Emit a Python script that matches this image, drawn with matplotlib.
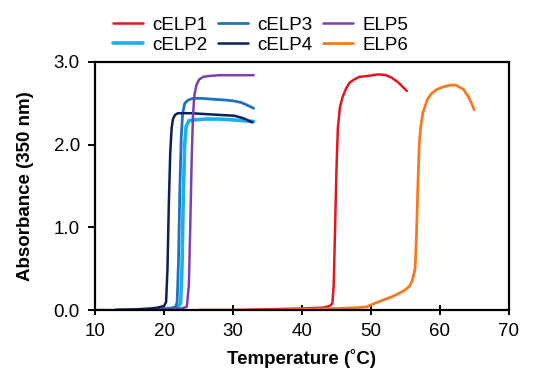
import matplotlib
matplotlib.use("Agg")
import matplotlib.pyplot as plt

plt.rcParams['font.family'] = ['Liberation Sans', 'DejaVu Sans']

# cELP1 (red)
t1 = [25, 30, 35, 40, 43, 44.0, 44.4, 44.6, 44.8, 45.0, 45.2, 45.5, 45.9, 46.4, 46.9, 47.6, 48.3, 49.5, 51.0, 52.2, 53.0, 54.0, 55.2]
a1 = [0.0, 0.0, 0.01, 0.02, 0.03, 0.05, 0.08, 0.3, 1.0, 1.7, 2.2, 2.45, 2.58, 2.68, 2.75, 2.79, 2.82, 2.83, 2.85, 2.84, 2.81, 2.75, 2.65]
# cELP2 (light blue)
t2 = [13, 16, 19, 21, 22.0, 22.4, 22.6, 22.8, 23.0, 23.2, 23.6, 24.5, 26, 28, 30, 31.5, 33]
a2 = [0.0, 0.0, 0.01, 0.02, 0.04, 0.08, 0.5, 1.4, 2.0, 2.22, 2.29, 2.30, 2.31, 2.31, 2.30, 2.29, 2.28]
# cELP3 (blue)
t3 = [13, 16, 19, 21, 21.7, 21.9, 22.1, 22.3, 22.5, 22.7, 23.0, 23.5, 24.2, 25.5, 27, 28.8, 30, 31.2, 32, 33]
a3 = [0.0, 0.0, 0.01, 0.02, 0.04, 0.1, 0.6, 1.5, 2.1, 2.38, 2.50, 2.54, 2.56, 2.56, 2.55, 2.54, 2.53, 2.51, 2.48, 2.44]
# cELP4 (navy)
t4 = [10, 13, 16, 18, 19, 20.0, 20.3, 20.5, 20.7, 20.9, 21.1, 21.3, 21.6, 22.0, 22.5, 24, 26, 28, 30.2, 31.5, 32.8]
a4 = [0.0, 0.0, 0.01, 0.02, 0.03, 0.05, 0.1, 0.5, 1.3, 1.9, 2.2, 2.31, 2.36, 2.38, 2.38, 2.38, 2.37, 2.36, 2.35, 2.32, 2.27]
# ELP5 (purple)
t5 = [13, 16, 19, 21, 22.5, 23.3, 23.6, 23.8, 24.0, 24.2, 24.4, 24.7, 25.1, 25.7, 26.5, 28, 30, 32, 33]
a5 = [0.0, 0.0, 0.0, 0.01, 0.02, 0.04, 0.3, 1.0, 1.8, 2.35, 2.6, 2.72, 2.79, 2.82, 2.83, 2.84, 2.84, 2.84, 2.84]
# ELP6 (orange)
t6 = [25, 30, 35, 40, 45, 48, 49.4, 50.2, 51.1, 52.0, 53.0, 54.0, 54.9, 55.6, 56.0, 56.4, 56.6, 56.8, 57.0, 57.2, 57.5, 58.2, 58.8, 59.6, 60.5, 61.5, 62.3, 63.4, 64.2, 65.0]
a6 = [0.0, 0.0, 0.0, 0.01, 0.02, 0.03, 0.04, 0.07, 0.10, 0.13, 0.16, 0.20, 0.24, 0.29, 0.36, 0.5, 0.9, 1.5, 2.0, 2.2, 2.38, 2.55, 2.62, 2.67, 2.70, 2.72, 2.72, 2.67, 2.57, 2.42]

series = [
    ("cELP1", t1, a1, "#e3161d", 1.8),
    ("cELP2", t2, a2, "#1ab0ea", 2.6),
    ("cELP3", t3, a3, "#1f72bf", 2.0),
    ("cELP4", t4, a4, "#0b1f5a", 1.8),
    ("ELP5", t5, a5, "#7a3fb0", 1.8),
    ("ELP6", t6, a6, "#f47a20", 2.0),
]

fig = plt.figure(figsize=(5.34, 3.71), dpi=100)
ax = fig.add_axes([0.178, 0.164, 0.775, 0.669])

for name, t, a, c, lw in series:
    ax.plot(t, a, color=c, lw=lw, label=name, solid_capstyle='round')

ax.set_xlim(10, 70)
ax.set_ylim(0, 3.0)
ax.set_xticks(range(10, 71, 10))
ax.set_yticks([0, 1, 2, 3])
ax.set_yticklabels(["0.0", "1.0", "2.0", "3.0"])
for s in ax.spines.values():
    s.set_linewidth(1.6)
ax.tick_params(axis='x', direction='inout', length=7, width=1.4, labelsize=13.5, pad=6)
ax.tick_params(axis='y', direction='out', length=5, width=1.4, labelsize=13.5, pad=6)
ax.set_xlabel("Temperature (˚C)", fontsize=13.5, fontweight='bold', labelpad=6)
ax.set_ylabel("Absorbance (350 nm)", fontsize=13.5, fontweight='bold', labelpad=14)

fig.legend(loc='upper center', bbox_to_anchor=(0.488, 0.99), ncol=3, frameon=False,
           fontsize=13.5, handlelength=1.6, handletextpad=0.5, columnspacing=0.55,
           labelspacing=0.15, borderaxespad=0.3)

fig.savefig("out.png", dpi=100)
